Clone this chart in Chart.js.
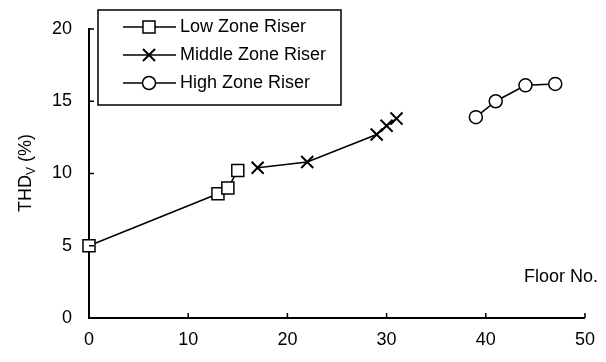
<!DOCTYPE html>
<html>
<head>
<meta charset="utf-8">
<script src="https://cdn.jsdelivr.net/npm/chart.js@4/dist/chart.umd.min.js"></script>
<style>
  html, body { margin: 0; padding: 0; background: #fff; }
  #wrap { width: 606px; height: 362px; }
</style>
</head>
<body>
<div id="wrap"><canvas id="c" width="606" height="362"></canvas></div>
<script>
// Datos
const lowX  = [0, 13, 14, 15];
const lowY  = [5, 8.6, 9, 10.2];
const midX  = [17, 22, 29, 30, 31];
const midY  = [10.4, 10.8, 12.7, 13.3, 13.8];
const highX = [39, 41, 44, 47];
const highY = [13.9, 15, 16.1, 16.2];
const seriesNames = ['Low Zone Riser', 'Middle Zone Riser', 'High Zone Riser'];
const xTicks = [0, 10, 20, 30, 40, 50];
const yTicks = [0, 5, 10, 15, 20];

const FONT = 'Liberation Sans, Arial, sans-serif';
const FS = 18;
const pts = (xs, ys) => xs.map((x, i) => ({ x: x, y: ys[i] }));

const base = {
  showLine: true,
  clip: false,
  borderColor: '#000',
  borderWidth: 1.5,
  pointBorderColor: '#000',
  pointBackgroundColor: '#fff',
  pointBorderWidth: 1.5,
  pointHoverRadius: 0
};
const datasets = [
  Object.assign({}, base, { label: seriesNames[0], data: pts(lowX, lowY), pointStyle: 'rect', pointRadius: 8.5 }),
  Object.assign({}, base, { label: seriesNames[1], data: pts(midX, midY), pointStyle: 'crossRot', pointRadius: 8.5, pointBorderWidth: 2 }),
  Object.assign({}, base, { label: seriesNames[2], data: pts(highX, highY), pointStyle: 'circle', pointRadius: 6.5 })
];

// marcas hacia dentro, título del eje Y, leyenda y "Floor No."
const extras = {
  id: 'extras',
  afterDraw(chart) {
    const ctx = chart.ctx, a = chart.chartArea;
    const xs = chart.scales.x, ys = chart.scales.y;
    ctx.save();
    ctx.strokeStyle = '#000';
    ctx.lineWidth = 1.5;
    ctx.beginPath();
    xTicks.forEach(v => { const p = xs.getPixelForValue(v); ctx.moveTo(p, a.bottom); ctx.lineTo(p, a.bottom - 5); });
    yTicks.forEach(v => { const p = ys.getPixelForValue(v); ctx.moveTo(a.left, p); ctx.lineTo(a.left + 5, p); });
    ctx.stroke();

    // título del eje Y con subíndice
    ctx.fillStyle = '#000';
    ctx.translate(26, 173);
    ctx.rotate(-Math.PI / 2);
    ctx.textBaseline = 'middle';
    ctx.textAlign = 'left';
    ctx.font = FS + 'px ' + FONT;
    const w1 = ctx.measureText('THD').width;
    const w3 = ctx.measureText(' (%)').width;
    ctx.font = '12px ' + FONT;
    const w2 = ctx.measureText('V').width;
    const x0 = -(w1 + w2 + w3) / 2;
    ctx.font = FS + 'px ' + FONT;
    ctx.fillText('THD', x0, 0);
    ctx.fillText(' (%)', x0 + w1 + w2, 0);
    ctx.font = '12px ' + FONT;
    ctx.fillText('V', x0 + w1, 6);
    ctx.setTransform(1, 0, 0, 1, 0, 0);

    // "Floor No."
    ctx.font = FS + 'px ' + FONT;
    ctx.textAlign = 'right';
    ctx.textBaseline = 'middle';
    ctx.fillText('Floor No.', 598, 277);

    // leyenda
    ctx.fillStyle = '#fff';
    ctx.fillRect(98, 10, 243, 95);
    ctx.lineWidth = 1.5;
    ctx.strokeRect(98, 10, 243, 95);
    chart.data.datasets.forEach((ds, i) => {
      const y = 27 + i * 28;
      ctx.strokeStyle = '#000';
      ctx.lineWidth = 1.5;
      ctx.beginPath();
      ctx.moveTo(123, y);
      ctx.lineTo(176, y);
      ctx.stroke();
      ctx.fillStyle = '#fff';
      ctx.lineWidth = ds.pointBorderWidth;
      Chart.helpers.drawPoint(ctx, {
        pointStyle: ds.pointStyle, radius: ds.pointRadius, rotation: 0, borderWidth: ds.pointBorderWidth
      }, 149, y);
      ctx.fillStyle = '#000';
      ctx.font = FS + 'px ' + FONT;
      ctx.textAlign = 'left';
      ctx.textBaseline = 'middle';
      ctx.fillText(ds.label, 180, y);
    });
    ctx.restore();
  }
};

new Chart(document.getElementById('c'), {
  type: 'scatter',
  data: { datasets: datasets },
  plugins: [extras],
  options: {
    responsive: false,
    animation: false,
    layout: { padding: { top: 29, right: 12, left: 0, bottom: 0 } },
    plugins: { legend: { display: false }, tooltip: { enabled: false } },
    scales: {
      x: {
        type: 'linear', min: 0, max: 50,
        afterBuildTicks: s => { s.ticks = xTicks.map(v => ({ value: v })); },
        afterFit: s => { s.height = 44; },
        grid: { display: false, drawTicks: false },
        border: { display: true, color: '#000', width: 2 },
        ticks: { color: '#000', font: { family: FONT, size: FS }, padding: 11, maxRotation: 0 }
      },
      y: {
        type: 'linear', min: 0, max: 20,
        afterBuildTicks: s => { s.ticks = yTicks.map(v => ({ value: v })); },
        afterFit: s => { s.width = 89; },
        grid: { display: false, drawTicks: false },
        border: { display: true, color: '#000', width: 2 },
        ticks: { color: '#000', font: { family: FONT, size: FS }, padding: 17 }
      }
    }
  }
});
</script>
</body>
</html>
